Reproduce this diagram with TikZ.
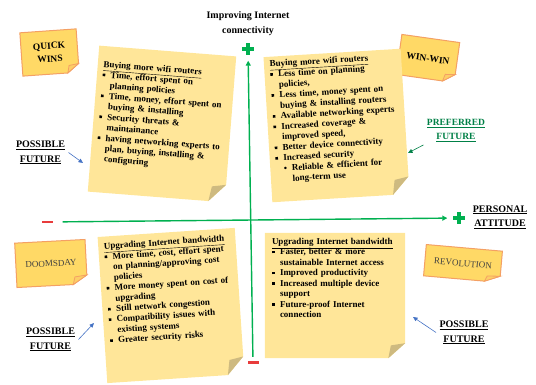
\documentclass[tikz,border=0pt]{standalone}
\usepackage{fontspec}
\setmainfont{Liberation Serif}
\usetikzlibrary{calc,backgrounds,arrows.meta}

\definecolor{notefill}{RGB}{255,230,153}
\definecolor{noteflap}{RGB}{206,186,128}
\definecolor{tagfill}{RGB}{255,217,102}
\definecolor{tagline}{RGB}{244,160,100}
\definecolor{axisgreen}{RGB}{0,176,80}
\definecolor{minusred}{RGB}{232,60,60}
\definecolor{linkblue}{RGB}{68,114,196}
\definecolor{prefgreen}{RGB}{0,128,70}
\definecolor{taggray}{RGB}{64,64,64}

% bullets and indents inside the notes
\newcommand{\sqb}{\makebox[8pt][l]{\raisebox{1.5pt}{\rule{2.6pt}{2.6pt}}}}
\newcommand{\rdb}{\makebox[8pt][l]{\textbullet}}
\newcommand{\wrapin}{\hspace*{8pt}}
\newcommand{\padnote}[1]{\rule[-#1]{0pt}{#1}}

% paper shape with folded corner behind a node
\newcommand{\stickyshape}[4]{%
  \coordinate (#1-fa) at ($(#1.south east)!#4!(#1.north east)$);
  \coordinate (#1-fb) at ($(#1.south east)!#4!(#1.south west)$);
  \coordinate (#1-fm) at ($(#1-fa)!0.5!(#1-fb)$);
  \path[#2] (#1.north west) -- (#1.north east) -- (#1-fa) -- (#1-fb) -- (#1.south west) -- cycle;
  \path[#3] (#1-fa) -- (#1-fb) -- ($(#1-fm)!-0.7!(#1.south east)$) -- cycle;
}

\begin{document}
\begin{tikzpicture}[x=1pt,y=-1pt,
    notebox/.style={align=left, text width=126pt, inner xsep=5.5pt, inner ysep=0pt,
      font=\bfseries\fontsize{9}{10.5}\selectfont},
    tagbox/.style={align=center, inner sep=0pt, font=\bfseries\fontsize{9.5}{13}\selectfont},
    futurelabel/.style={align=center, font=\bfseries\fontsize{10}{14.5}\selectfont},
    notepaper/.style={fill=notefill},
    noteflapfill/.style={fill=noteflap},
    tagpaper/.style={fill=tagfill, draw=tagline, line width=1pt},
    tagflap/.style={fill=tagfill!80!tagline, draw=tagline, line width=0.8pt},
    plussign/.style={minimum size=11pt, inner sep=0pt},
    minussign/.style={fill=minusred, minimum width=11pt, minimum height=2.8pt, inner sep=0pt},
    axisline/.style={axisgreen, line width=1.4pt},
    pointer/.style={linkblue, line width=0.6pt, -{Triangle[length=4.5pt,width=4pt]}},
    >={Triangle[length=5pt,width=5pt]}]
    \useasboundingbox (0,0) rectangle (536,385);

    % title and axes
    \node[font=\bfseries\fontsize{10}{15}\selectfont, align=center] (ytitle) at (248,23.5) {Improving Internet\\connectivity};
    \node[plussign] (yplus) at (248,49) {};
    \node[minussign] (yminus) at (253,362.5) {};
    \node[minussign] (xminus) at (47,222) {};
    \node[plussign] (xplus) at (459,218) {};
    \draw[axisline,->,shorten <=4pt,shorten >=6pt] (yminus) -- (yplus);
    \draw[axisline,->,shorten <=10pt,shorten >=6pt] (xminus) -- (xplus);
    \foreach \p in {yplus,xplus}
        \draw[axisgreen, line width=3.8pt] (\p.north) -- (\p.south) (\p.west) -- (\p.east);
    \node[futurelabel] (xtitle) at (500,217) {\underline{PERSONAL}\\\underline{ATTITUDE}};

    % quadrant tags
    \node[tagbox, rotate=4, minimum width=56pt, minimum height=43pt] (quickwins) at (49.5,52.5) {QUICK\\WINS};
    \node[tagbox, rotate=-8, minimum width=58pt, minimum height=40pt] (winwin) at (428,58.5) {WIN-WIN};
    \node[tagbox, font=\fontsize{9}{11}\selectfont, text=taggray, rotate=3, minimum width=70pt, minimum height=44pt] (doomsday) at (51,263.5) {DOOMSDAY};
    \node[tagbox, font=\fontsize{9}{11}\selectfont, text=taggray, rotate=-5, minimum width=76pt, minimum height=31pt] (revolution) at (463,263.5) {REVOLUTION};

    % sticky notes
    \node[notebox, rotate=-4.5, minimum width=137pt, minimum height=146pt] (buyleft) at (162,124) {%
        \underline{Buying more wifi routers}\\
        \sqb Time, effort spent on\\
        \wrapin planning policies\\
        \sqb Time, money, effort spent on\\
        \wrapin buying \& installing\\
        \sqb Security threats \&\\
        \wrapin maintainance\\
        \sqb having networking experts to\\
        \wrapin plan, buying, installing \&\\
        \wrapin configuring\padnote{16pt}};
    \node[notebox, rotate=3.5, minimum width=137pt, minimum height=145pt] (buyright) at (336.5,125.5) {%
        \underline{Buying more wifi routers}\\
        \sqb Less time on planning\\
        \wrapin policies,\\
        \sqb Less time, money spent on\\
        \wrapin buying \& installing routers\\
        \sqb Available networking experts\\
        \sqb Increased coverage \&\\
        \wrapin improved speed,\\
        \sqb Better device connectivity\\
        \sqb Increased security\\
        \wrapin\rdb Reliable \& efficient for\\
        \wrapin\wrapin long-term use\padnote{16pt}};
    \node[notebox, rotate=3.8, minimum width=137pt, minimum height=146pt] (bwleft) at (171,305.5) {%
        \underline{Upgrading Internet bandwidth}\\
        \sqb More time, cost, effort spent\\
        \wrapin on planning/approving cost\\
        \wrapin policies\\
        \sqb More money spent on cost of\\
        \wrapin upgrading\\
        \sqb Still network congestion\\
        \sqb Compatibility issues with\\
        \wrapin existing systems\\
        \sqb Greater security risks\padnote{33pt}};
    \node[notebox, minimum width=140pt, minimum height=125pt] (bwright) at (335,295.5) {%
        \underline{Upgrading Internet bandwidth}\\
        \sqb Faster, better \& more\\
        \wrapin sustainable Internet access\\
        \sqb Improved productivity\\
        \sqb Increased multiple device\\
        \wrapin support\\
        \sqb Future-proof Internet\\
        \wrapin connection\padnote{35pt}};

    \begin{scope}[on background layer]
        \foreach \tagname in {quickwins,winwin,doomsday,revolution}
            {\stickyshape{\tagname}{tagpaper}{tagflap}{0.2}}
        \foreach \notename in {buyleft,buyright,bwleft,bwright}
            {\stickyshape{\notename}{notepaper}{noteflapfill}{0.12}}
    \end{scope}

    % future labels
    \node[futurelabel] (posstl) at (40.5,152.5) {\underline{POSSIBLE}\\\underline{FUTURE}};
    \node[futurelabel] (possbl) at (50.5,339.5) {\underline{POSSIBLE}\\\underline{FUTURE}};
    \node[futurelabel] (possbr) at (464,332.5) {\underline{POSSIBLE}\\\underline{FUTURE}};
    \node[futurelabel, font=\bfseries\fontsize{9.5}{13.5}\selectfont, text=prefgreen] (preferred) at (456,130.5) {\underline{PREFERRED}\\\underline{FUTURE}};
    \coordinate (tiptl) at (83,163);
    \coordinate (tipbl) at (94,323);
    \coordinate (tipbr) at (413,317);
    \coordinate (tiptr) at (408,153);
    \draw[pointer] (posstl.east) -- (tiptl);
    \draw[pointer] (possbl.east) -- (tipbl);
    \draw[pointer] (possbr.west) -- (tipbr);
    \draw[pointer, prefgreen] (preferred.south west) -- (tiptr);
\end{tikzpicture}
\end{document}
